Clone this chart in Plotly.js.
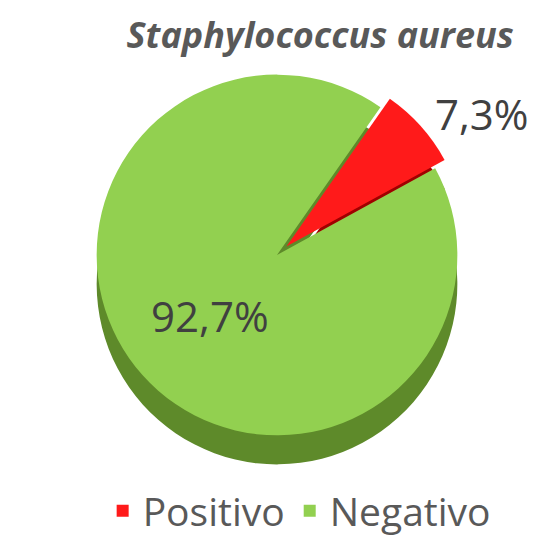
<!DOCTYPE html>
<html>
<head>
<meta charset="utf-8">
<script src="https://cdn.plot.ly/plotly-3.0.1.min.js"></script>
<style>html,body{margin:0;padding:0;background:#fff;}#chart{width:554px;height:543px;}</style>
</head>
<body>
<div id="chart"></div>
<script>
var categories = ['Positivo', 'Negativo'];
var values = [7.3, 92.7];
var labelsText = ['7,3%', '92,7%'];
var colors = ['#FF1A1A', '#92D050'];
var sideColors = ['#A00000', '#5E8A2A'];

var common = {
  type: 'pie',
  labels: categories,
  values: values,
  sort: false,
  direction: 'clockwise',
  rotation: 35,
  pull: [0.07, 0]
};

var depthTrace = Object.assign({}, common, {
  marker: {colors: sideColors, line: {width: 0}},
  textinfo: 'none',
  hoverinfo: 'skip',
  showlegend: false,
  domain: {x: [0, 1], y: [0.0, 0.93]}
});

var faceTrace = Object.assign({}, common, {
  marker: {colors: colors, line: {color: '#ffffff', width: 0}},
  text: labelsText,
  texttemplate: '%{text}',
  textinfo: 'text',
  textposition: ['outside', 'inside'],
  insidetextorientation: 'horizontal',
  textfont: {family: 'Open Sans, Noto Sans, sans-serif', size: 42, color: '#404040'},
  outsidetextfont: {family: 'Open Sans, Noto Sans, sans-serif', size: 42, color: '#404040'},
  insidetextfont: {family: 'Open Sans, Noto Sans, sans-serif', size: 42, color: '#404040'},
  domain: {x: [0, 1], y: [0.07, 1]}
});

var layout = {
  width: 554, height: 543,
  margin: {l: 0, r: 0, t: 62, b: 58},
  paper_bgcolor: '#ffffff',
  title: {
    text: '<b><i>Staphylococcus aureus</i></b>',
    font: {family: 'Open Sans, Noto Sans, sans-serif', size: 36, color: '#595959'},
    x: 0.578, xanchor: 'center', y: 0.935, yanchor: 'middle'
  },
  legend: {
    orientation: 'h', x: 0.54, xanchor: 'center', y: -0.005, yanchor: 'top',
    font: {family: 'Open Sans, Noto Sans, sans-serif', size: 39, color: '#595959'},
    itemwidth: 30
  },
  showlegend: true
};

Plotly.newPlot('chart', [depthTrace, faceTrace], layout, {displayModeBar: false, staticPlot: true});
</script>
</body>
</html>
